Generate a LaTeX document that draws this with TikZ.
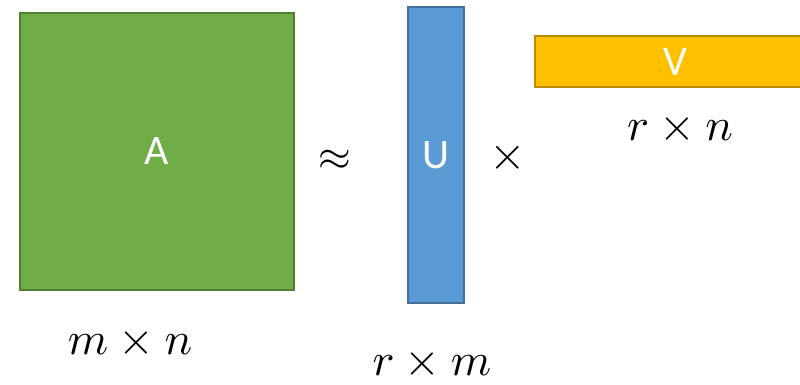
\documentclass[tikz,border=0pt]{standalone}
\usepackage{graphicx}
\usepackage{fontspec}
\setmainfont{Carlito}
\definecolor{gfill}{HTML}{70AD47}
\definecolor{gline}{HTML}{507E32}
\definecolor{bfill}{HTML}{5B9BD5}
\definecolor{bline}{HTML}{41719C}
\definecolor{ofill}{HTML}{FFC000}
\definecolor{oline}{HTML}{BC8C00}
\newcommand{\bigmath}[1]{\scalebox{4.6}{$#1$}}
\tikzset{
  mat/.style={rectangle, inner sep=0pt, outer sep=0pt, line width=2pt, text=white,
    font=\fontsize{42}{42}\selectfont},
  dimlab/.style={inner sep=0pt, anchor=base},
  oplab/.style={inner sep=0pt}
}
\begin{document}
\begin{tikzpicture}[x=1pt,y=-1pt]
\useasboundingbox (0,0) rectangle (800,385);
\clip (0,0) rectangle (800,385);
\node[mat, fill=gfill, draw=gline, minimum width=274pt, minimum height=276pt] (A) at (156.5,151.5) {A};
\node[mat, fill=bfill, draw=bline, minimum width=56pt, minimum height=295pt] (U) at (435.5,155) {U};
\node[mat, fill=ofill, draw=oline, minimum width=281pt, minimum height=51pt] (V) at (675.5,62) {V};
\node[oplab] (approx) at (335,160) {\scalebox{4.2}{$\approx$}};
\node[oplab] (times) at (508,158) {\scalebox{4.7}{$\times$}};
\node[dimlab] (mn) at (130,354) {\bigmath{m\times n}};
\node[dimlab] (rm) at (432,375) {\bigmath{r\times m}};
\node[dimlab] (rn) at (680,140) {\bigmath{r\times n}};
\end{tikzpicture}
\end{document}
